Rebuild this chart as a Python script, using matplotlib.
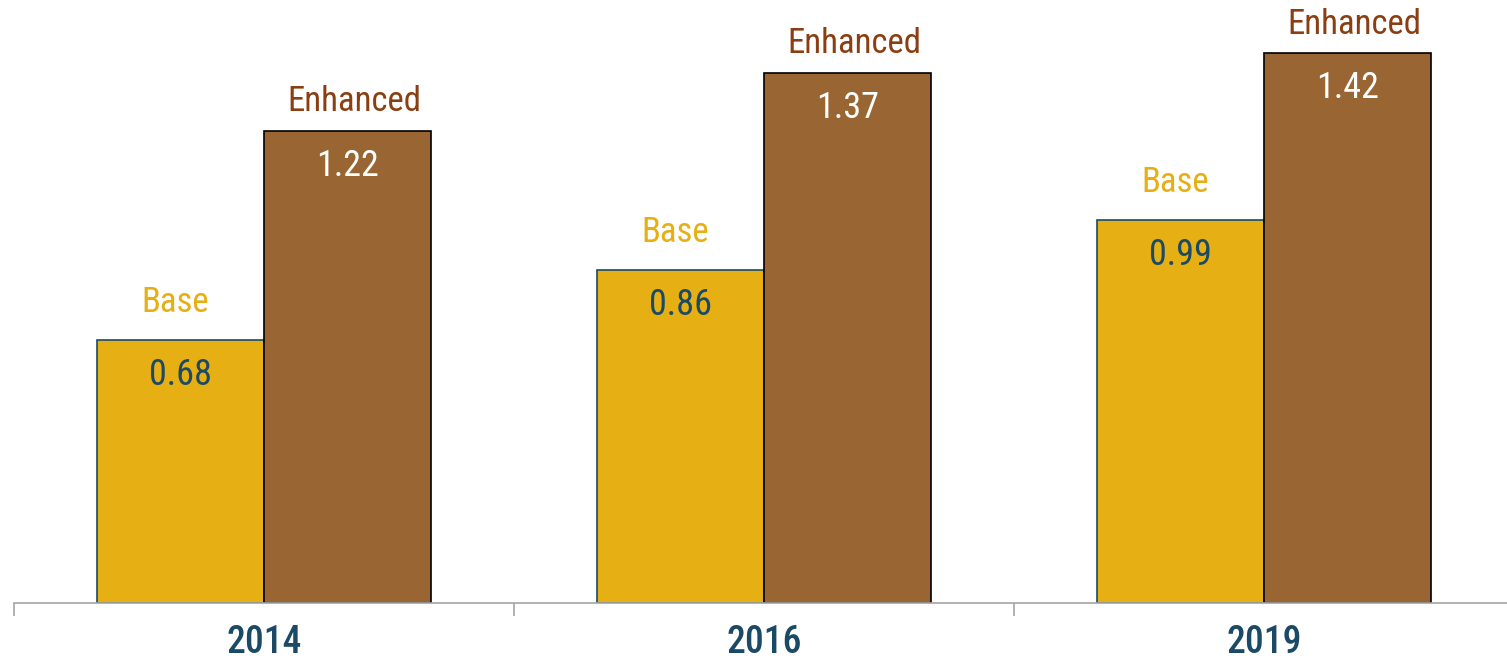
import matplotlib.pyplot as plt
import numpy as np
from matplotlib import font_manager

years = ['2014', '2016', '2019']
base = [0.68, 0.86, 0.99]
enhanced = [1.22, 1.37, 1.42]

names = {f.name for f in font_manager.fontManager.ttflist}
font = next((f for f in ['Roboto Condensed', 'Fira Sans Condensed', 'Liberation Sans'] if f in names), 'DejaVu Sans')
plt.rcParams['font.family'] = [font, 'DejaVu Sans']

gold = '#E6AF14'
brown = '#996633'
navy = '#1B4A66'

fig = plt.figure(figsize=(15.07, 6.63), dpi=100)
ax = fig.add_axes([14 / 1507, 60 / 663, 1500 / 1507, 1.55 * 387 / 663])

x = np.arange(len(years))
w = 1 / 3
ax.bar(x - w / 2, base, w, color=gold, edgecolor=navy, linewidth=1.2)
ax.bar(x + w / 2, enhanced, w, color=brown, edgecolor='black', linewidth=1.2)

for i in range(len(years)):
    ax.annotate(f'{base[i]:.2f}', (x[i] - w / 2, base[i]), xytext=(0, -25), textcoords='offset points',
                ha='center', va='center', fontsize=26, color=navy)
    ax.annotate(f'{enhanced[i]:.2f}', (x[i] + w / 2, enhanced[i]), xytext=(0, -25), textcoords='offset points',
                ha='center', va='center', fontsize=26, color='white')
    ax.annotate('Base', (x[i] - w / 2, base[i]), xytext=(-4, 27), textcoords='offset points',
                ha='center', va='center', fontsize=25, color=gold)
    ax.annotate('Enhanced', (x[i] + w / 2, enhanced[i]), xytext=(5, 21), textcoords='offset points',
                ha='center', va='center', fontsize=25, color='#8B3E12')

ax.set_xlim(-0.5, 2.5)
ax.set_ylim(0, 1.55)
ax.set_xticks(np.arange(-0.5, 3, 1))
ax.set_xticklabels([])
ax.set_xticks(x, minor=True)
ax.set_xticklabels(years, minor=True, fontsize=27, fontweight='medium', color=navy)
ax.tick_params(axis='x', which='major', length=9, color='#A6A6A6', width=1.2)
ax.tick_params(axis='x', which='minor', length=0, pad=15)
ax.set_yticks([])
for s in ['top', 'right', 'left']:
    ax.spines[s].set_visible(False)
ax.spines['bottom'].set_color('#A6A6A6')
ax.spines['bottom'].set_linewidth(1.2)

fig.savefig('out.png', dpi=100)
